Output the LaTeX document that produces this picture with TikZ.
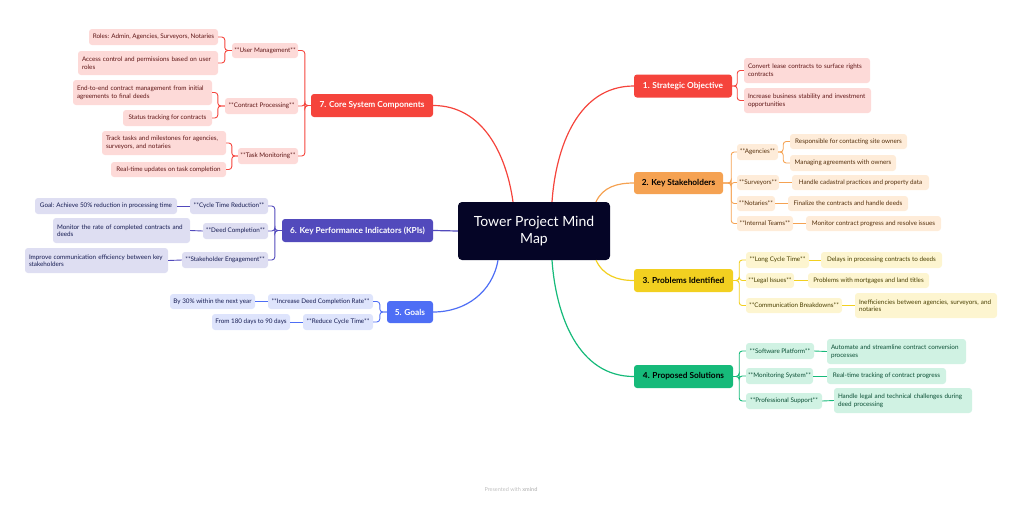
\documentclass[tikz,border=0pt]{standalone}
\usepackage{fontspec}
\setmainfont{Lato}
\usepackage{tikz}
\usetikzlibrary{positioning,calc}
\definecolor{hubnavy}{RGB}{5,5,38}
\definecolor{corered}{RGB}{245,68,60}
\definecolor{stakeorange}{RGB}{245,162,82}
\definecolor{probyellow}{RGB}{242,208,32}
\definecolor{solgreen}{RGB}{22,186,122}
\definecolor{goalblue}{RGB}{78,110,245}
\definecolor{kpiindigo}{RGB}{82,74,188}
\definecolor{redlight}{RGB}{253,218,216}
\definecolor{orangelight}{RGB}{254,236,217}
\definecolor{yellowlight}{RGB}{253,245,208}
\definecolor{greenlight}{RGB}{208,242,227}
\definecolor{bluelight}{RGB}{222,228,252}
\definecolor{indigolight}{RGB}{222,222,242}
\definecolor{reddark}{RGB}{95,22,22}
\definecolor{orangedark}{RGB}{85,48,12}
\definecolor{yellowdark}{RGB}{72,62,0}
\definecolor{greendark}{RGB}{10,78,52}
\definecolor{bluedark}{RGB}{22,28,82}

\begin{document}
\begin{tikzpicture}[x=1pt,y=-1pt,
    topic/.style={rounded corners=3pt,inner sep=0pt,minimum height=23,font=\fontsize{8.3}{10}\selectfont\bfseries},
    sub/.style={rounded corners=3pt,inner sep=0pt,minimum height=16,font=\fontsize{6.3}{7.6}\selectfont},
    leaf/.style={sub,align=left},
    link/.style={line width=1.2pt,rounded corners=3pt},
    twig/.style={line width=0.9pt,rounded corners=3pt}]
    \useasboundingbox (0,0) rectangle (1022,504);

    % Central topic
    \node[fill=hubnavy,text=white,rounded corners=4pt,minimum width=152,minimum height=58,
      align=center,font=\fontsize{14}{17}\selectfont] (hub) at (534,231) {Tower Project Mind\\Map};

    % Main topics
    \node[topic,fill=corered,text=white,minimum width=98] (strat) at (683,86) {1. Strategic Objective};
    \node[topic,fill=stakeorange,text=black,minimum width=89,minimum height=22] (stake) at (678.5,183) {2. Key Stakeholders};
    \node[topic,fill=probyellow,text=black,minimum width=99] (prob) at (683.5,280.5) {3. Problems Identified};
    \node[topic,fill=solgreen,text=black,minimum width=99] (sol) at (683.5,376.5) {4. Proposed Solutions};
    \node[topic,fill=goalblue,text=white,minimum width=46,minimum height=22] (goals) at (410,312) {5. Goals};
    \node[topic,fill=kpiindigo,text=white,minimum width=151] (kpi) at (357.5,230.5) {6. Key Performance Indicators (KPIs)};
    \node[topic,fill=corered,text=white,minimum width=122] (core) at (372,105.5) {7. Core System Components};

    % Hub to topics
    \draw[link,corered] (core.east) to[out=0,in=98] ([xshift=-21]hub.north);
    \draw[link,corered] ([xshift=18]hub.north) to[out=86,in=180] (strat.west);
    \draw[link,stakeorange] ([xshift=62]hub.north) to[out=65,in=180] (stake.west);
    \draw[link,probyellow] ([xshift=62]hub.south) to[out=-65,in=180] (prob.west);
    \draw[link,solgreen] ([xshift=18]hub.south) to[out=-86,in=180] (sol.west);
    \draw[link,goalblue] ([xshift=-36]hub.south) to[out=-100,in=0] (goals.east);
    \draw[link,kpiindigo] (hub.west) -- (kpi.east);

    % 1. Strategic Objective
    \node[leaf,fill=redlight,text=reddark,minimum width=126,minimum height=25,text width=118] (conv) at (807,70.5) {Convert lease contracts to surface rights\\contracts};
    \node[leaf,fill=redlight,text=reddark,minimum width=127,minimum height=25,text width=119] (incr) at (807.5,100.5) {Increase business stability and investment\\opportunities};
    \foreach \n in {conv,incr}
      \draw[twig,corered] (strat.east) -- ++(5,0) |- (\n.west);

    % 2. Key Stakeholders
    \node[sub,fill=orangelight,text=orangedark,minimum width=41] (agen) at (757.5,152) {**Agencies**};
    \node[sub,fill=orangelight,text=orangedark,minimum width=42,minimum height=15] (surv) at (758,182.5) {**Surveyors**};
    \node[sub,fill=orangelight,text=orangedark,minimum width=38,minimum height=15] (nota) at (756,203.5) {**Notaries**};
    \node[sub,fill=orangelight,text=orangedark,minimum width=56,minimum height=15] (iteam) at (765,223.5) {**Internal Teams**};
    \node[leaf,fill=orangelight,text=orangedark,minimum width=117,minimum height=15] (resp) at (848.5,141.5) {Responsible for contacting site owners};
    \node[leaf,fill=orangelight,text=orangedark,minimum width=106] (magr) at (843,163) {Managing agreements with owners};
    \node[leaf,fill=orangelight,text=orangedark,minimum width=137,minimum height=15] (cada) at (860.5,182.5) {Handle cadastral practices and property data};
    \node[leaf,fill=orangelight,text=orangedark,minimum width=120,minimum height=15] (fina) at (848,203.5) {Finalize the contracts and handle deeds};
    \node[leaf,fill=orangelight,text=orangedark,minimum width=135,minimum height=15] (moni) at (873.5,223.5) {Monitor contract progress and resolve issues};
    \foreach \n in {agen,surv,nota,iteam}
      \draw[twig,stakeorange] (stake.east) -- ++(8,0) |- (\n.west);
    \foreach \n in {resp,magr}
      \draw[twig,stakeorange] (agen.east) -- ++(5,0) |- (\n.west);
    \draw[twig,stakeorange] (surv.east) -- (cada.west);
    \draw[twig,stakeorange] (nota.east) -- (fina.west);
    \draw[twig,stakeorange] (iteam.east) -- (moni.west);

    % 3. Problems Identified
    \node[sub,fill=yellowlight,text=yellowdark,minimum width=63] (lct) at (777.5,260) {**Long Cycle Time**};
    \node[sub,fill=yellowlight,text=yellowdark,minimum width=48,minimum height=15] (legal) at (770,280.5) {**Legal Issues**};
    \node[sub,fill=yellowlight,text=yellowdark,minimum width=96,minimum height=15] (cbrk) at (794,305.5) {**Communication Breakdowns**};
    \node[leaf,fill=yellowlight,text=yellowdark,minimum width=121] (delay) at (881.5,260) {Delays in processing contracts to deeds};
    \node[leaf,fill=yellowlight,text=yellowdark,minimum width=121,minimum height=15] (mort) at (868.5,280.5) {Problems with mortgages and land titles};
    \node[leaf,fill=yellowlight,text=yellowdark,minimum width=142,minimum height=25,text width=134] (ineff) at (926,305.5) {Inefficiencies between agencies, surveyors, and\\notaries};
    \foreach \n in {lct,legal,cbrk}
      \draw[twig,probyellow] (prob.east) -- ++(6,0) |- (\n.west);
    \draw[twig,probyellow] (lct.east) -- (delay.west);
    \draw[twig,probyellow] (legal.east) -- (mort.west);
    \draw[twig,probyellow] (cbrk.east) -- (ineff.west);

    % 4. Proposed Solutions
    \node[sub,fill=greenlight,text=greendark,minimum width=68] (swp) at (780,351) {**Software Platform**};
    \node[sub,fill=greenlight,text=greendark,minimum width=67] (msys) at (779.5,376) {**Monitoring System**};
    \node[sub,fill=greenlight,text=greendark,minimum width=76] (psup) at (784,401) {**Professional Support**};
    \node[leaf,fill=greenlight,text=greendark,minimum width=139,minimum height=25,text width=131] (auto) at (896.5,351.5) {Automate and streamline contract conversion\\processes};
    \node[leaf,fill=greenlight,text=greendark,minimum width=119] (rtt) at (886.5,376) {Real-time tracking of contract progress};
    \node[leaf,fill=greenlight,text=greendark,minimum width=138,minimum height=25,text width=130] (hleg) at (903,400.5) {Handle legal and technical challenges during\\deed processing};
    \foreach \n in {swp,msys,psup}
      \draw[twig,solgreen] (sol.east) -- ++(6,0) |- (\n.west);
    \draw[twig,solgreen] (swp.east) -- (auto.west);
    \draw[twig,solgreen] (msys.east) -- (rtt.west);
    \draw[twig,solgreen] (psup.east) -- (hleg.west);

    % 5. Goals
    \node[sub,fill=bluelight,text=bluedark,minimum width=105,minimum height=15] (idcr) at (320.5,301.5) {**Increase Deed Completion Rate**};
    \node[sub,fill=bluelight,text=bluedark,minimum width=70] (rct) at (338,322) {**Reduce Cycle Time**};
    \node[leaf,fill=bluelight,text=bluedark,minimum width=85,minimum height=15] (by30) at (212.5,301.5) {By 30\% within the next year};
    \node[leaf,fill=bluelight,text=bluedark,minimum width=78] (f180) at (251,322) {From 180 days to 90 days};
    \foreach \n in {idcr,rct}
      \draw[twig,goalblue] (goals.west) -- ++(-7,0) |- (\n.east);
    \draw[twig,goalblue] (idcr.west) -- (by30.east);
    \draw[twig,goalblue] (rct.west) -- (f180.east);

    % 6. KPIs
    \node[sub,fill=indigolight,text=bluedark,minimum width=78] (ctr) at (229,206) {**Cycle Time Reduction**};
    \node[sub,fill=indigolight,text=bluedark,minimum width=65] (dcomp) at (235.5,231) {**Deed Completion**};
    \node[sub,fill=indigolight,text=bluedark,minimum width=86] (seng) at (225,260) {**Stakeholder Engagement**};
    \node[leaf,fill=indigolight,text=bluedark,minimum width=142] (goal50) at (106,206) {Goal: Achieve 50\% reduction in processing time};
    \node[leaf,fill=indigolight,text=bluedark,minimum width=137,minimum height=25,text width=129] (mrate) at (121.5,230.5) {Monitor the rate of completed contracts and\\deeds};
    \node[leaf,fill=indigolight,text=bluedark,minimum width=143,minimum height=25,text width=135] (icomm) at (96.5,260.5) {Improve communication efficiency between key\\stakeholders};
    \foreach \n in {ctr,dcomp,seng}
      \draw[twig,kpiindigo] (kpi.west) -- ++(-7,0) |- (\n.east);
    \draw[twig,kpiindigo] (ctr.west) -- (goal50.east);
    \draw[twig,kpiindigo] (dcomp.west) -- (mrate.east);
    \draw[twig,kpiindigo] (seng.west) -- (icomm.east);

    % 7. Core System Components
    \node[sub,fill=redlight,text=reddark,minimum width=66,minimum height=15] (umgmt) at (265,50.5) {**User Management**};
    \node[sub,fill=redlight,text=reddark,minimum width=73] (cproc) at (261.5,106) {**Contract Processing**};
    \node[sub,fill=redlight,text=reddark,minimum width=60] (tmon) at (268,156) {**Task Monitoring**};
    \node[leaf,fill=redlight,text=reddark,minimum width=129] (roles) at (153.5,37) {Roles: Admin, Agencies, Surveyors, Notaries};
    \node[leaf,fill=redlight,text=reddark,minimum width=140,minimum height=24,text width=132] (access) at (148,63) {Access control and permissions based on user\\roles};
    \node[leaf,fill=redlight,text=reddark,minimum width=139,minimum height=25,text width=131] (etoe) at (142.5,92.5) {End-to-end contract management from initial\\agreements to final deeds};
    \node[leaf,fill=redlight,text=reddark,minimum width=89] (status) at (167.5,118) {Status tracking for contracts};
    \node[leaf,fill=redlight,text=reddark,minimum width=124,minimum height=24,text width=116] (track) at (164,143) {Track tasks and milestones for agencies,\\surveyors, and notaries};
    \node[leaf,fill=redlight,text=reddark,minimum width=115,minimum height=15] (rtupd) at (168.5,169.5) {Real-time updates on task completion};
    \foreach \n in {umgmt,cproc,tmon}
      \draw[twig,corered] (core.west) -- ++(-6,0) |- (\n.east);
    \foreach \n in {roles,access}
      \draw[twig,corered] (umgmt.west) -- ++(-7,0) |- (\n.east);
    \foreach \n in {etoe,status}
      \draw[twig,corered] (cproc.west) -- ++(-7,0) |- (\n.east);
    \foreach \n in {track,rtupd}
      \draw[twig,corered] (tmon.west) -- ++(-6,0) |- (\n.east);

    % Footer
    \node[text=black!25,font=\fontsize{5.5}{7}\selectfont] (wm) at (511,489) {Presented with \textbf{xmind}};
\end{tikzpicture}
\end{document}
